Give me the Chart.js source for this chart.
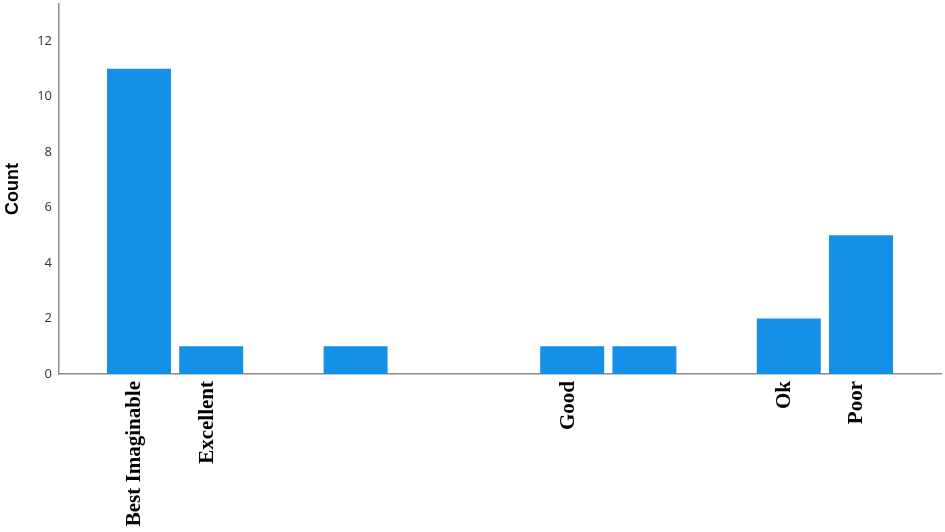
<!DOCTYPE html>
<html>
<head>
<meta charset="utf-8">
<script src="https://cdn.jsdelivr.net/npm/chart.js@4/dist/chart.umd.min.js"></script>
<style>
  html, body { margin: 0; padding: 0; background: #ffffff; }
  #wrap { width: 945px; height: 532px; position: relative; }
</style>
</head>
<body>
<div id="wrap"><canvas id="c" width="945" height="532"></canvas></div>
<script>
// Category labels (one per slot on the x axis; blank slots have no printed label)
const categories = ['Best Imaginable', 'Excellent', '', '', '', '', 'Good', '', '', 'Ok', 'Poor'];
// Counts per slot
const counts = [11, 1, 0, 1, 0, 0, 1, 1, 0, 2, 5];
// Y-axis tick labels shown
const yTicks = [0, 2, 4, 6, 8, 10, 12];
const yMax = 13.33;

const points = counts.map((v, i) => ({ x: i, y: v }));

new Chart(document.getElementById('c'), {
  type: 'bar',
  data: {
    datasets: [{
      data: points,
      backgroundColor: '#1490e6',
      borderWidth: 0,
      categoryPercentage: 1,
      barPercentage: 0.886
    }]
  },
  options: {
    responsive: false,
    animation: false,
    events: [],
    layout: { padding: { left: 2, top: 4, right: 4, bottom: 0 } },
    plugins: { legend: { display: false }, tooltip: { enabled: false } },
    scales: {
      x: {
        type: 'linear',
        min: -1.108,
        max: categories.length - 1 + 1.108,
        offset: false,
        grid: { display: false },
        border: { display: true, color: '#8c8c8c', width: 1.5 },
        afterBuildTicks: (scale) => {
          scale.ticks = categories.map((_, i) => ({ value: i }));
        },
        afterFit: (scale) => { scale.height = 158; scale.paddingRight = 0; scale.paddingLeft = 0; },
        ticks: {
          autoSkip: false,
          minRotation: 90,
          maxRotation: 90,
          padding: -1,
          labelOffset: -4,
          color: '#000000',
          font: { family: '"Liberation Serif", "Times New Roman", serif', size: 21, weight: 'bold' },
          callback: (value) => categories[Math.round(value)] || ''
        }
      },
      y: {
        min: 0,
        max: yMax,
        grid: { display: false, drawTicks: false },
        border: { display: true, color: '#8c8c8c', width: 1.5 },
        afterBuildTicks: (scale) => {
          scale.ticks = yTicks.map(v => ({ value: v }));
        },
        afterFit: (scale) => { scale.width = 57; scale.paddingTop = 0; scale.paddingBottom = 0; },
        ticks: {
          padding: 7,
          color: '#333333',
          font: { family: '"Open Sans", "Liberation Sans", sans-serif', size: 13 }
        },
        title: {
          display: true,
          text: 'Count',
          color: '#000000',
          padding: 0,
          font: { family: '"Liberation Sans", Arial, sans-serif', size: 18, weight: 'bold' }
        }
      }
    }
  }
});
</script>
</body>
</html>
